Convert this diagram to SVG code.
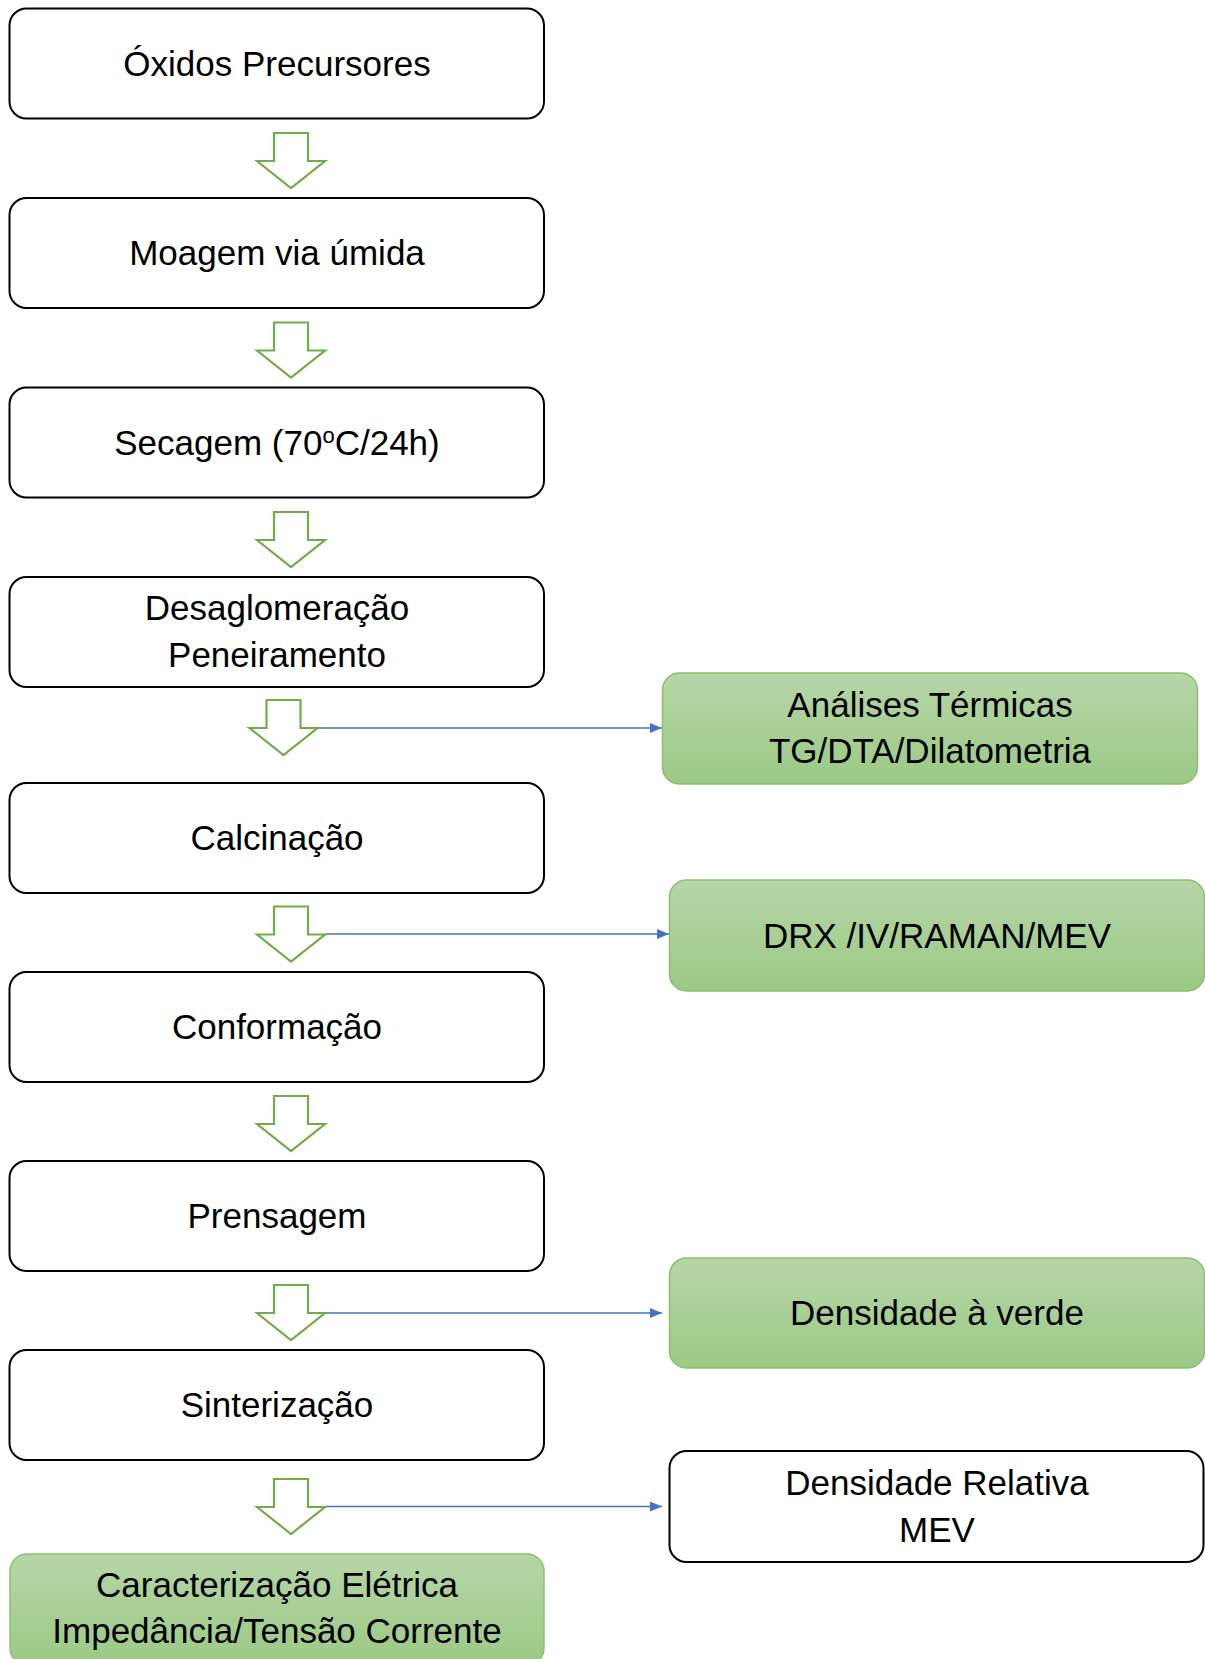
<svg xmlns="http://www.w3.org/2000/svg" width="1205" height="1659" viewBox="0 0 1205 1659">
<defs>
<linearGradient id="gg" x1="0" y1="0" x2="0" y2="1">
<stop offset="0" stop-color="#b5d6a7"/>
<stop offset="1" stop-color="#9cc985"/>
</linearGradient>
<marker id="ah" viewBox="0 0 12 10" refX="12" refY="5" markerWidth="12" markerHeight="10" markerUnits="userSpaceOnUse" orient="auto">
<path d="M0,0 L12,5 L0,10 Z" fill="#4472c4"/>
</marker>
<path id="dn" d="M-17,0 H17 V28 H34 L0,55 L-34,28 H-17 Z"/>
</defs>
<style>
.box{fill:#fff;stroke:#000;stroke-width:2}
.gbox{fill:url(#gg);stroke:#8cc06c;stroke-width:1.5}
.t{font-family:"Liberation Sans",Arial,sans-serif;font-size:35px;fill:#000;text-anchor:middle}
.blk{fill:#fff;stroke:#70ad47;stroke-width:2.2;stroke-linejoin:miter}
.con{stroke:#4472c4;stroke-width:1.5;fill:none;marker-end:url(#ah)}
</style>
<rect width="1205" height="1659" fill="#fff"/>

<g id="connectors">
<line class="con" x1="318" y1="728" x2="662" y2="728"/>
<line class="con" x1="325" y1="934" x2="669" y2="934"/>
<line class="con" x1="325" y1="1313" x2="662" y2="1313"/>
<line class="con" x1="325" y1="1506.5" x2="662" y2="1506.5"/>
</g>

<g id="flow-arrows">
<use href="#dn" class="blk" x="291" y="133"/>
<use href="#dn" class="blk" x="291" y="322.5"/>
<use href="#dn" class="blk" x="291" y="512"/>
<use href="#dn" class="blk" x="283.5" y="700"/>
<use href="#dn" class="blk" x="291" y="906.5"/>
<use href="#dn" class="blk" x="291" y="1096"/>
<use href="#dn" class="blk" x="291" y="1285"/>
<use href="#dn" class="blk" x="291" y="1479"/>
</g>

<g id="n1"><rect class="box" x="9.5" y="8.5" width="534.5" height="110" rx="17"/><text class="t" x="277" y="76">Óxidos Precursores</text></g>
<g id="n2"><rect class="box" x="9.5" y="198" width="534.5" height="110" rx="17"/><text class="t" x="277" y="265">Moagem via úmida</text></g>
<g id="n3"><rect class="box" x="9.5" y="387.5" width="534.5" height="110" rx="17"/><text class="t" x="277" y="455">Secagem (70<tspan font-size="22" dy="-12">o</tspan><tspan dy="12">C/24h)</tspan></text></g>
<g id="n4"><rect class="box" x="9.5" y="577" width="534.5" height="110" rx="17"/><text class="t" x="277" y="620">Desaglomeração</text><text class="t" x="277" y="666.5">Peneiramento</text></g>
<g id="n5"><rect class="box" x="9.5" y="783" width="534.5" height="110" rx="17"/><text class="t" x="277" y="850">Calcinação</text></g>
<g id="n6"><rect class="box" x="9.5" y="972" width="534.5" height="110" rx="17"/><text class="t" x="277" y="1039">Conformação</text></g>
<g id="n7"><rect class="box" x="9.5" y="1161" width="534.5" height="110" rx="17"/><text class="t" x="277" y="1228">Prensagem</text></g>
<g id="n8"><rect class="box" x="9.5" y="1350" width="534.5" height="110" rx="17"/><text class="t" x="277" y="1417">Sinterização</text></g>
<g id="n9"><rect class="gbox" x="10" y="1554" width="534" height="111" rx="17"/><text class="t" x="277" y="1597">Caracterização Elétrica</text><text class="t" x="277" y="1643">Impedância/Tensão Corrente</text></g>

<g id="a1"><rect class="gbox" x="662.5" y="673" width="535" height="111" rx="17"/><text class="t" x="930" y="716.5">Análises Térmicas</text><text class="t" x="930" y="763">TG/DTA/Dilatometria</text></g>
<g id="a2"><rect class="gbox" x="669.5" y="880" width="535" height="111" rx="17"/><text class="t" x="937" y="947.5">DRX /IV/RAMAN/MEV</text></g>
<g id="a3"><rect class="gbox" x="669.5" y="1258" width="535" height="110" rx="17"/><text class="t" x="937" y="1325">Densidade à verde</text></g>
<g id="a4"><rect class="box" x="669.5" y="1451" width="534" height="111" rx="17"/><text class="t" x="937" y="1495">Densidade Relativa</text><text class="t" x="937" y="1541.5">MEV</text></g>
</svg>
